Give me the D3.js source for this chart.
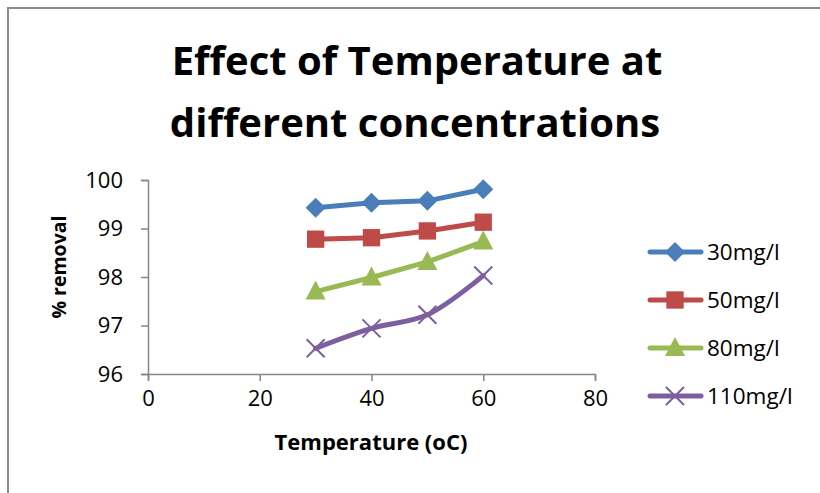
<!DOCTYPE html>
<html>
<head>
<meta charset="utf-8">
<script src="https://cdn.jsdelivr.net/npm/d3@7"></script>
<style>
  body { margin: 0; background: #fff; }
  svg text { font-family: "Open Sans", "Noto Sans", sans-serif; fill: #000; }
</style>
</head>
<body>
<div id="chart"></div>
<script>
// chart data
const temperatures = [30, 40, 50, 60];
const seriesNames = ["30mg/l", "50mg/l", "80mg/l", "110mg/l"];
const removal30 = [99.43, 99.53, 99.57, 99.81];
const removal50 = [98.78, 98.81, 98.95, 99.13];
const removal80 = [97.70, 97.99, 98.31, 98.73];
const removal110 = [96.53, 96.94, 97.22, 98.03];
const xTicks = [0, 20, 40, 60, 80];
const yTicks = [96, 97, 98, 99, 100];

const colors = ["#4A7EBB", "#BE4B48", "#98B954", "#7D5FA0"];
const markers = ["diamond", "square", "triangle", "cross"];

const width = 820, height = 493;

const svg = d3.select("#chart")
  .append("svg")
  .attr("width", width)
  .attr("height", height);

svg.append("rect")
  .attr("width", width)
  .attr("height", height)
  .attr("fill", "#fff");

// outer chart border (only top/left are inside the picture)
svg.append("rect")
  .attr("x", 8)
  .attr("y", 8)
  .attr("width", 840)
  .attr("height", 520)
  .attr("fill", "none")
  .attr("stroke", "#8c8c8c")
  .attr("stroke-width", 2);

const x = d3.scaleLinear().domain([0, 80]).range([148, 595]);
const y = d3.scaleLinear().domain([96, 100]).range([374, 180]);

// title
const title = svg.append("text")
  .attr("text-anchor", "middle")
  .style("font-weight", "bold")
  .style("font-size", "40px");
title.append("tspan").attr("x", 417).attr("y", 75).text("Effect of Temperature at");
title.append("tspan").attr("x", 415).attr("y", 137).text("different concentrations");

// axes
const xAxis = svg.append("g")
  .attr("transform", `translate(0,${y(96)})`)
  .call(d3.axisBottom(x).tickValues(xTicks).tickFormat(d3.format("d")).tickSize(7).tickPadding(9));

const yAxis = svg.append("g")
  .attr("transform", `translate(${x(0)},0)`)
  .call(d3.axisLeft(y).tickValues(yTicks).tickFormat(d3.format("d")).tickSize(7).tickPadding(18));

[xAxis, yAxis].forEach(g => {
  g.select(".domain").attr("stroke", "#868686").attr("stroke-width", 1.5);
  g.selectAll(".tick line").attr("stroke", "#868686").attr("stroke-width", 1.5);
  g.selectAll(".tick text")
    .style("font-size", "22px")
    .style("font-family", "\"Open Sans\", sans-serif")
    .attr("fill", "#000");
});
xAxis.selectAll(".tick text").attr("dy", "0.71em");

// axis titles
svg.append("text")
  .attr("x", 371)
  .attr("y", 450)
  .attr("text-anchor", "middle")
  .style("font-weight", "bold")
  .style("font-size", "22px")
  .text("Temperature (oC)");

svg.append("text")
  .attr("transform", "translate(66,267) rotate(-90)")
  .attr("text-anchor", "middle")
  .style("font-weight", "bold")
  .style("font-size", "19.5px")
  .text("% removal");

function drawMarker(g, type, color) {
  if (type === "cross") {
    g.append("path")
      .attr("d", "M-9,-9L9,9M-9,9L9,-9")
      .attr("stroke", color)
      .attr("stroke-width", 2)
      .attr("fill", "none");
  } else if (type === "diamond") {
    g.append("path")
      .attr("d", "M0,-10L10,0L0,10L-10,0Z")
      .attr("fill", color);
  } else if (type === "triangle") {
    g.append("path")
      .attr("d", "M0,-11L10,8L-10,8Z")
      .attr("fill", color);
  } else {
    g.append("path")
      .attr("d", d3.symbol(d3.symbolSquare, 300)())
      .attr("fill", color);
  }
}

const allSeries = [removal30, removal50, removal80, removal110];

allSeries.forEach((vals, i) => {
  const pts = temperatures.map((t, j) => [t, vals[j]]);
  const line = d3.line()
    .x(d => x(d[0]))
    .y(d => y(d[1]))
    .curve(i === 3 ? d3.curveCatmullRom.alpha(0.5) : d3.curveLinear);

  svg.append("path")
    .datum(pts)
    .attr("d", line)
    .attr("fill", "none")
    .attr("stroke", colors[i])
    .attr("stroke-width", 5)
    .attr("stroke-linejoin", "round")
    .attr("stroke-linecap", "round");

  pts.forEach(p => {
    const g = svg.append("g").attr("transform", `translate(${x(p[0])},${y(p[1])})`);
    drawMarker(g, markers[i], colors[i]);
  });
});

// legend
const legend = svg.append("g");
seriesNames.forEach((name, i) => {
  const ly = 252 + i * 48;
  const g = legend.append("g").attr("transform", `translate(0,${ly})`);
  g.append("line")
    .attr("x1", 650).attr("x2", 701)
    .attr("stroke", colors[i])
    .attr("stroke-width", 5)
    .attr("stroke-linecap", "round");
  const mg = g.append("g").attr("transform", "translate(675,0)");
  drawMarker(mg, markers[i], colors[i]);
  g.append("text")
    .attr("x", 707)
    .attr("y", 0)
    .attr("dy", "0.36em")
    .style("font-size", "22.5px")
    .text(name);
});
</script>
</body>
</html>
